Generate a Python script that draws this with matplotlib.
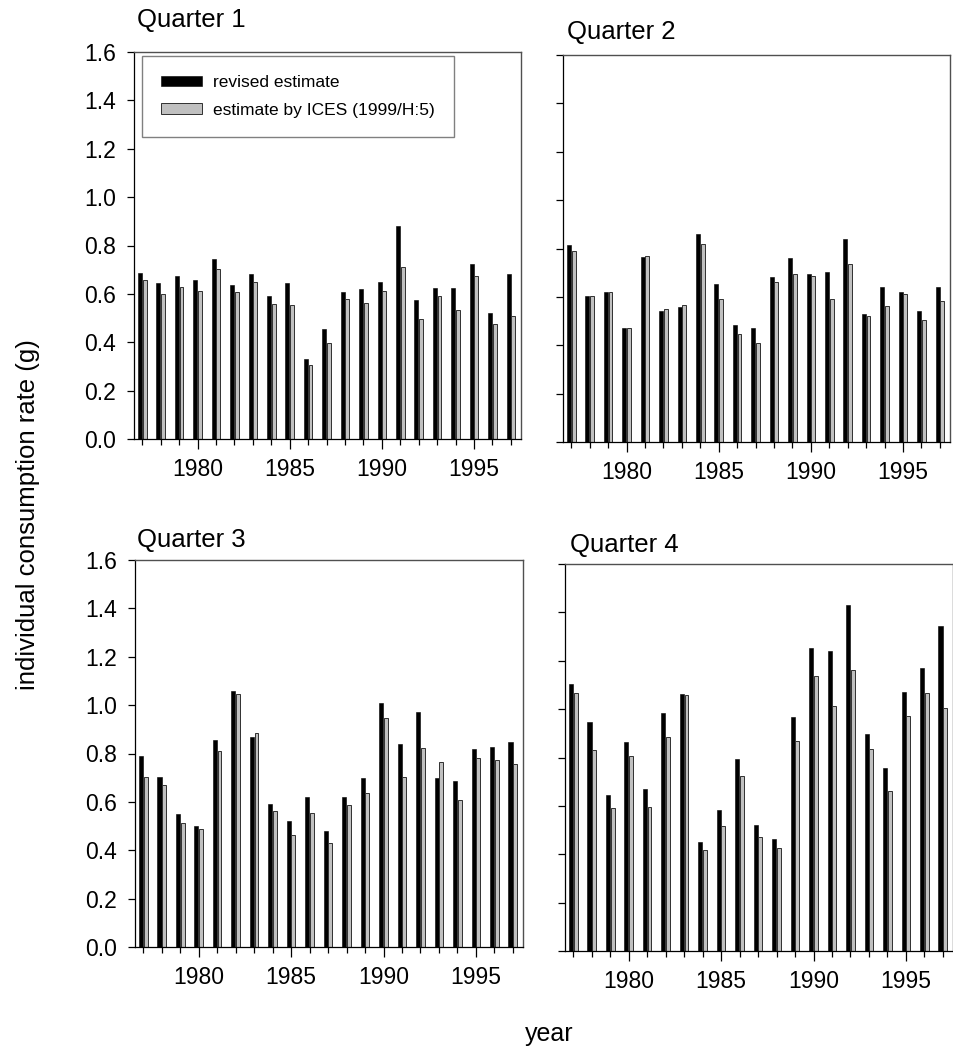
import matplotlib
matplotlib.use("Agg")
import matplotlib.pyplot as plt
from matplotlib.ticker import MultipleLocator, FixedLocator
import numpy as np

plt.rcParams['font.family'] = ['Liberation Sans', 'DejaVu Sans']

years = list(range(1977, 1998))

# revised estimate / estimate by ICES (1999/H:5), one pair per quarter
q1_revised = [0.686, 0.646, 0.674, 0.656, 0.743, 0.638, 0.682, 0.593, 0.644, 0.332, 0.456,
              0.608, 0.620, 0.648, 0.882, 0.575, 0.623, 0.624, 0.722, 0.522, 0.682]
q1_ices = [0.659, 0.601, 0.628, 0.611, 0.703, 0.609, 0.650, 0.558, 0.555, 0.305, 0.397,
           0.579, 0.564, 0.613, 0.711, 0.496, 0.593, 0.535, 0.674, 0.477, 0.510]

q2_revised = [0.815, 0.605, 0.620, 0.470, 0.765, 0.542, 0.560, 0.862, 0.655, 0.485, 0.472,
              0.682, 0.760, 0.693, 0.703, 0.838, 0.530, 0.640, 0.620, 0.542, 0.640]
q2_ices = [0.788, 0.605, 0.621, 0.470, 0.768, 0.548, 0.566, 0.820, 0.592, 0.448, 0.410,
           0.662, 0.696, 0.685, 0.592, 0.737, 0.520, 0.564, 0.612, 0.505, 0.585]

q3_revised = [0.790, 0.702, 0.551, 0.501, 0.856, 1.059, 0.869, 0.592, 0.519, 0.621, 0.478,
              0.620, 0.697, 1.009, 0.839, 0.971, 0.699, 0.687, 0.817, 0.828, 0.848]
q3_ices = [0.702, 0.669, 0.514, 0.489, 0.810, 1.046, 0.885, 0.562, 0.463, 0.556, 0.428,
           0.587, 0.635, 0.946, 0.704, 0.823, 0.766, 0.607, 0.782, 0.772, 0.755]

q4_revised = [1.105, 0.945, 0.645, 0.866, 0.670, 0.983, 1.062, 0.450, 0.582, 0.793, 0.522,
              0.462, 0.969, 1.252, 1.240, 1.432, 0.899, 0.755, 1.072, 1.170, 1.345]
q4_ices = [1.067, 0.830, 0.592, 0.805, 0.596, 0.884, 1.058, 0.418, 0.516, 0.724, 0.472,
           0.426, 0.867, 1.138, 1.012, 1.163, 0.834, 0.660, 0.973, 1.067, 1.005]

titles = ['Quarter 1', 'Quarter 2', 'Quarter 3', 'Quarter 4']
revised = [q1_revised, q2_revised, q3_revised, q4_revised]
ices = [q1_ices, q2_ices, q3_ices, q4_ices]

fig = plt.figure(figsize=(9.54, 10.52), dpi=100)
W, H = 954, 1052
# pixel boxes: left, right, top, bottom
boxes = [(134, 521, 52, 439), (563, 950, 55, 442), (135, 523, 560, 947), (565, 953, 564, 951)]
title_pos = [(137, 27), (567, 39), (137, 547), (570, 552)]

x = np.array(years)
for i in range(4):
    l, r, t, b = boxes[i]
    ax = fig.add_axes([l / W, 1 - b / H, (r - l) / W, (b - t) / H])
    ax.bar(x - 0.235, revised[i], width=0.22, align='edge', color='black',
           edgecolor='black', linewidth=0.4, label='revised estimate')
    ax.bar(x + 0.02, ices[i], width=0.21, align='edge', color='#c0c0c0',
           edgecolor='#303030', linewidth=0.7, label='estimate by ICES (1999/H:5)')
    ax.set_xlim(1976.55, 1997.55)
    ax.set_ylim(0, 1.6)
    ax.yaxis.set_major_locator(MultipleLocator(0.2))
    ax.xaxis.set_major_locator(FixedLocator([1980, 1985, 1990, 1995]))
    ax.xaxis.set_minor_locator(MultipleLocator(1))
    ax.tick_params(axis='x', which='major', length=7, width=0.9, direction='out',
                   labelsize=16.5, pad=7)
    ax.tick_params(axis='x', which='minor', length=4, width=0.9, direction='out')
    ax.tick_params(axis='y', length=5, width=0.9, direction='out', labelsize=16.5, pad=8)
    if i in (0, 2):
        ax.yaxis.set_major_formatter(matplotlib.ticker.FormatStrFormatter('%.1f'))
    else:
        ax.set_yticklabels([])
    for s in ('left', 'bottom'):
        ax.spines[s].set_color('black')
        ax.spines[s].set_linewidth(0.9)
    for s in ('top', 'right'):
        ax.spines[s].set_color('#505050')
        ax.spines[s].set_linewidth(1.0)
    fig.text(title_pos[i][0] / W, 1 - title_pos[i][1] / H, titles[i], fontsize=18.5,
             ha='left', va='baseline')
    if i == 0:
        leg = ax.legend(loc='upper left', bbox_to_anchor=(0.02, 0.989), fontsize=12.5,
                        frameon=True, fancybox=False, edgecolor='#606060',
                        handlelength=2.35, handleheight=0.55, borderpad=1.1,
                        labelspacing=0.7, handletextpad=0.65, borderaxespad=0)
        leg.get_frame().set_linewidth(1.0)

fig.text(28 / W, 1 - 515 / H, 'individual consumption rate (g)', rotation=90,
         fontsize=18.5, ha='center', va='center')
fig.text(549 / W, 1 - 1034 / H, 'year', fontsize=18, ha='center', va='center')

fig.savefig('out.png', dpi=100)
